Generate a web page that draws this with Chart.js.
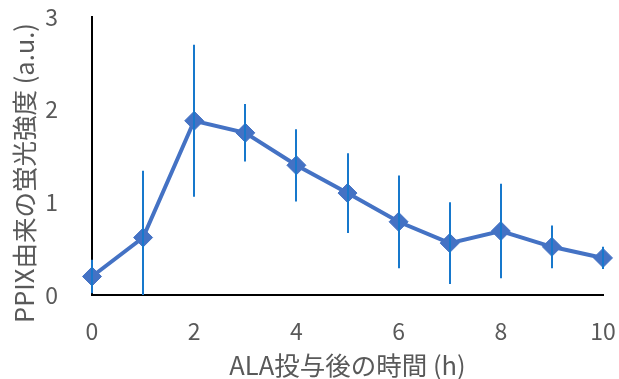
<!DOCTYPE html>
<html>
<head>
<meta charset="utf-8">
<script src="https://cdn.jsdelivr.net/npm/chart.js@4/dist/chart.umd.min.js"></script>
<style>
  html, body { margin: 0; padding: 0; background: #fff; }
  #wrap { width: 619px; height: 379px; position: relative; }
  canvas { display: block; }
</style>
</head>
<body>
<div id="wrap"><canvas id="c" width="619" height="379" style="width:619px;height:379px"></canvas></div>
<script>
// Data
const hours = [0, 1, 2, 3, 4, 5, 6, 7, 8, 9, 10];
const intensity = [0.20, 0.62, 1.88, 1.75, 1.40, 1.10, 0.79, 0.56, 0.69, 0.52, 0.40];
const errorValues = [0.18, 0.72, 0.82, 0.31, 0.39, 0.43, 0.50, 0.44, 0.51, 0.23, 0.12];
const xTitle = 'ALA投与後の時間 (h)';
const yTitle = 'PPIX由来の蛍光強度 (a.u.)';

const FONT = "'Noto Sans CJK JP', 'Open Sans', sans-serif";
const TEXT_COLOR = '#595959';

const points = hours.map((h, i) => ({ x: h, y: intensity[i] }));

const errorBarPlugin = {
  id: 'errorBars',
  afterDatasetsDraw(chart) {
    const { ctx, chartArea, scales: { x, y } } = chart;
    ctx.save();
    ctx.strokeStyle = '#1778CC';
    ctx.lineWidth = 2;
    hours.forEach((h, i) => {
      const px = Math.round(x.getPixelForValue(h));
      let top = y.getPixelForValue(intensity[i] + errorValues[i]);
      let bot = y.getPixelForValue(intensity[i] - errorValues[i]);
      top = Math.max(top, chartArea.top);
      bot = Math.min(bot, chartArea.bottom);
      ctx.beginPath();
      ctx.moveTo(px, top);
      ctx.lineTo(px, bot);
      ctx.stroke();
    });
    ctx.restore();
  }
};

const yTitlePlugin = {
  id: 'yTitle',
  afterDraw(chart) {
    const { ctx } = chart;
    ctx.save();
    ctx.translate(24, 173);
    ctx.rotate(-Math.PI / 2);
    ctx.font = "25.5px " + FONT;
    ctx.fillStyle = TEXT_COLOR;
    ctx.textAlign = 'center';
    ctx.textBaseline = 'middle';
    ctx.fillText(yTitle, 0, 0);
    ctx.restore();
  }
};

new Chart(document.getElementById('c'), {
  type: 'line',
  data: {
    datasets: [{
      label: 'PPIX',
      data: points,
      borderColor: '#4472C4',
      backgroundColor: '#4472C4',
      borderWidth: 4,
      pointStyle: 'rectRot',
      pointRadius: 9.5,
      pointHoverRadius: 9.5,
      pointBorderWidth: 1,
      pointBorderColor: '#4472C4',
      pointBackgroundColor: '#4472C4',
      tension: 0,
      clip: false
    }]
  },
  options: {
    responsive: false,
    animation: false,
    devicePixelRatio: 1,
    layout: { padding: { top: 17, right: 16, left: 0, bottom: 0 } },
    plugins: {
      legend: { display: false },
      tooltip: { enabled: false }
    },
    scales: {
      x: {
        type: 'linear',
        min: 0,
        max: 10,
        grid: { display: false },
        border: { display: true, color: '#000000', width: 2 },
        ticks: {
          stepSize: 2,
          color: TEXT_COLOR,
          font: { family: FONT, size: 23 },
          padding: 14,
          maxRotation: 0
        },
        title: {
          display: true,
          text: xTitle,
          color: TEXT_COLOR,
          font: { family: FONT, size: 25.5, lineHeight: 1.1 },
          padding: { top: 0, bottom: 0 }
        },
        afterFit(scale) {
          scale.height = 84;
          scale.paddingLeft = 0;
          scale.paddingRight = 0;
        }
      },
      y: {
        type: 'linear',
        min: 0,
        max: 3,
        grid: { display: false },
        border: { display: true, color: '#000000', width: 2 },
        ticks: {
          stepSize: 1,
          color: TEXT_COLOR,
          font: { family: FONT, size: 23 },
          padding: 26
        },
        afterFit(scale) {
          scale.width = 92;
          scale.paddingTop = 0;
          scale.paddingBottom = 0;
        }
      }
    }
  },
  plugins: [errorBarPlugin, yTitlePlugin]
});
</script>
</body>
</html>
